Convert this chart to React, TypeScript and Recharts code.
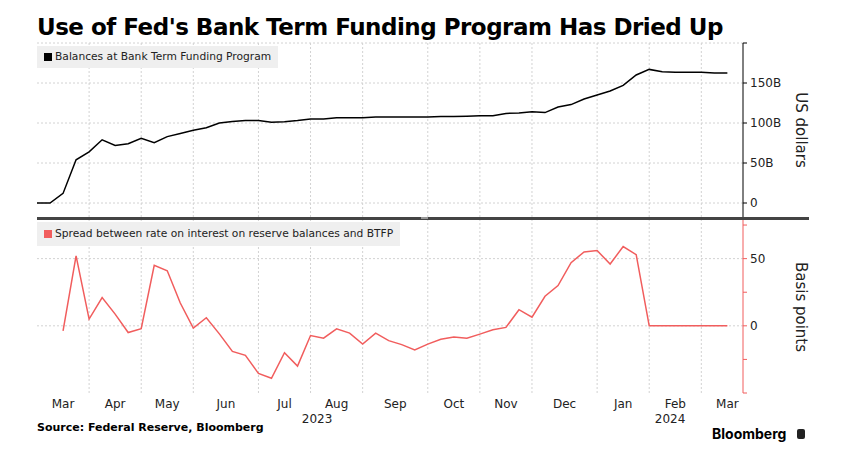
import { LineChart, Line, XAxis, YAxis, ReferenceLine } from "recharts";

// weekly observations (Fridays), index 0 = 2023-03-10
const BALANCES = [
  0, 0, 12, 54, 64, 79, 72, 74, 81, 75.5,
  83, 87, 91, 94, 100, 102, 103, 103, 101, 101.5,
  103, 105, 105, 106.5, 106.5, 106.5, 107.5, 107.5, 107.5, 107.5,
  107.5, 108, 108, 108.5, 109, 109, 112, 112.5, 114, 113,
  120, 123, 130, 135, 140, 147, 160, 167, 164, 163.5,
  163.5, 163.5, 162.5, 162.5,
];

const SPREAD = [
  null, null, -3.7, 52, 5, 21, 8.7, -5, -2.2, 45,
  41, 17, -1.7, 6, -6, -19, -22, -35.4, -39, -20,
  -30, -7.2, -9.2, -2.2, -5.4, -13.6, -5.4, -11, -14, -18,
  -13.6, -10, -8.4, -9.2, -6.2, -3, -1.2, 12, 6.4, 22,
  30, 47, 55, 56, 46, 59, 53, 0, 0, 0,
  0, 0, 0, 0,
];

const MONTH_LABELS = ["Mar", "Apr", "May", "Jun", "Jul", "Aug", "Sep", "Oct", "Nov", "Dec", "Jan", "Feb", "Mar"];
const MONTH_TICK_POS = [2, 6, 10, 14.5, 19, 23, 27.5, 32, 36, 40.5, 45, 49, 53];
const MONTH_STARTS = [4, 8, 12, 17, 21, 25, 30, 34, 38, 43, 47, 51];
const YEAR_LABELS = ["2023", "2024"];
const X_MAX = 54.2;
const JAN_2024 = 43;
const YEAR_TICK_POS = [JAN_2024 / 2, (JAN_2024 + X_MAX) / 2];

const USD_TICKS = [0, 50, 100, 150, 200];
const USD_LABELED = [0, 50, 100, 150];
const BP_TICKS = [-50, -25, 0, 25, 50, 75];
const BP_LABELED = [0, 50];

const data = BALANCES.map((v, i) => ({ i, balance: v, spread: SPREAD[i] }));

const FONT = "'DejaVu Sans', Verdana, sans-serif";
const RED = "#f15d5d";
const GRID = "#d2d2d2";

const MonthTick = (props: any) => {
  const { x, y, payload } = props;
  const idx = MONTH_TICK_POS.indexOf(payload.value);
  return (
    <text x={x} y={y} dy={15} textAnchor="middle" fontSize={12} fill="#222" fontFamily={FONT}>
      {MONTH_LABELS[idx]}
    </text>
  );
};

const YearTick = (props: any) => {
  const { x, y, payload } = props;
  const idx = YEAR_TICK_POS.indexOf(payload.value);
  return (
    <text x={x} y={y} dy={15} textAnchor="middle" fontSize={12} fill="#222" fontFamily={FONT}>
      {YEAR_LABELS[idx]}
    </text>
  );
};

const monthGrid = (yId: string) =>
  MONTH_STARTS.map((m) => (
    <ReferenceLine key={"g" + m} x={m} xAxisId="m" yAxisId={yId} stroke={GRID} strokeDasharray="2 2" />
  ));

const LegendBox = ({ top, color, text, height }: any) => (
  <div
    style={{
      position: "absolute",
      left: 37,
      top,
      height,
      lineHeight: height + "px",
      background: "#efefef",
      padding: "0 7px 0 7px",
      fontFamily: FONT,
      fontSize: 10.7,
      color: "#222",
      whiteSpace: "nowrap",
      display: "flex",
      alignItems: "center",
    }}
  >
    <span style={{ display: "inline-block", width: 8, height: 8, background: color, marginRight: 3 }} />
    {text}
  </div>
);

const SideTitle = ({ cy, text }: any) => (
  <div
    style={{
      position: "absolute",
      left: 800,
      top: cy,
      transform: "translate(-50%, -50%) rotate(90deg)",
      fontFamily: FONT,
      fontSize: 15,
      lineHeight: "15px",
      color: "#222",
      whiteSpace: "nowrap",
    }}
  >
    {text}
  </div>
);

export default function App() {
  return (
    <div style={{ position: "absolute", left: 0, top: 0, width: 849, height: 465, background: "#fff", overflow: "hidden" }}>
      <div
        style={{
          position: "absolute",
          left: 37,
          top: 16,
          fontFamily: FONT,
          fontWeight: 700,
          fontSize: 23,
          lineHeight: "23px",
          letterSpacing: -0.5,
          color: "#000",
          whiteSpace: "nowrap",
        }}
      >
        Use of Fed's Bank Term Funding Program Has Dried Up
      </div>

      {/* upper panel: balances */}
      <div style={{ position: "absolute", left: 0, top: 0 }}>
        <LineChart width={849} height={217} data={data} margin={{ top: 43, right: 0, bottom: 0, left: 37 }}>
          <XAxis xAxisId="m" dataKey="i" type="number" domain={[0, X_MAX]} hide />
          <YAxis
            yAxisId="usd"
            orientation="right"
            width={106}
            domain={[-17.5, 200]}
            ticks={USD_TICKS}
            interval={0}
            tickFormatter={(v: number) => (USD_LABELED.includes(v) ? (v === 0 ? "0" : `${v}B`) : "")}
            tick={{ fill: "#222", fontSize: 12, fontFamily: FONT }}
            tickSize={4}
            tickMargin={3}
            axisLine={{ stroke: "#000" }}
            tickLine={{ stroke: "#000" }}
          />
          {USD_TICKS.map((t) => (
            <ReferenceLine key={"h" + t} y={t} xAxisId="m" yAxisId="usd" stroke={GRID} strokeDasharray="2 2" />
          ))}
          {monthGrid("usd")}
          <Line
            xAxisId="m"
            yAxisId="usd"
            type="linear"
            dataKey="balance"
            stroke="#000"
            strokeWidth={1.5}
            dot={false}
            isAnimationActive={false}
          />
        </LineChart>
      </div>

      {/* lower panel: spread */}
      <div style={{ position: "absolute", left: 0, top: 220 }}>
        <LineChart width={849} height={245} data={data} margin={{ top: 0, right: 0, bottom: 42, left: 37 }}>
          <XAxis
            xAxisId="m"
            dataKey="i"
            type="number"
            domain={[0, X_MAX]}
            ticks={MONTH_TICK_POS}
            interval={0}
            height={15}
            tickSize={0}
            tickMargin={0}
            axisLine={false}
            tickLine={false}
            tick={<MonthTick />}
          />
          <XAxis
            xAxisId="y"
            dataKey="i"
            type="number"
            domain={[0, X_MAX]}
            ticks={YEAR_TICK_POS}
            interval={0}
            height={15}
            tickSize={0}
            tickMargin={0}
            axisLine={false}
            tickLine={false}
            tick={<YearTick />}
          />
          <YAxis
            yAxisId="bp"
            orientation="right"
            width={106}
            domain={[-50, 78.75]}
            ticks={BP_TICKS}
            interval={0}
            tickFormatter={(v: number) => (BP_LABELED.includes(v) ? String(v) : "")}
            tick={{ fill: "#222", fontSize: 12, fontFamily: FONT }}
            tickSize={4}
            tickMargin={3}
            axisLine={{ stroke: RED }}
            tickLine={{ stroke: RED }}
          />
          {BP_LABELED.map((t) => (
            <ReferenceLine key={"h" + t} y={t} xAxisId="m" yAxisId="bp" stroke={GRID} strokeDasharray="2 2" />
          ))}
          {monthGrid("bp")}
          <Line
            xAxisId="m"
            yAxisId="bp"
            type="linear"
            dataKey="spread"
            stroke={RED}
            strokeWidth={1.5}
            dot={false}
            isAnimationActive={false}
          />
        </LineChart>
      </div>

      {/* panel divider */}
      <div style={{ position: "absolute", left: 37, top: 217, width: 772, height: 3, background: "#444" }} />
      <div style={{ position: "absolute", left: 421, top: 217, width: 7, height: 2, background: "#999" }} />

      <LegendBox top={46} height={22} color="#000" text="Balances at Bank Term Funding Program" />
      <LegendBox top={222} height={24} color={RED} text="Spread between rate on interest on reserve balances and BTFP" />

      <SideTitle cy={130} text="US dollars" />
      <SideTitle cy={306.5} text="Basis points" />

      <div
        style={{
          position: "absolute",
          left: 37,
          top: 421,
          fontFamily: FONT,
          fontWeight: 700,
          fontSize: 11,
          lineHeight: "14px",
          color: "#000",
          whiteSpace: "nowrap",
        }}
      >
        Source: Federal Reserve, Bloomberg
      </div>
      <div
        style={{
          position: "absolute",
          left: 712,
          top: 426,
          fontFamily: "Inter, Roboto, sans-serif",
          fontWeight: 700,
          fontSize: 14,
          lineHeight: "16px",
          color: "#000",
          whiteSpace: "nowrap",
        }}
      >
        Bloomberg
      </div>
      <div style={{ position: "absolute", left: 797, top: 429, width: 8, height: 10, background: "#222", borderRadius: 2 }} />
    </div>
  );
}
